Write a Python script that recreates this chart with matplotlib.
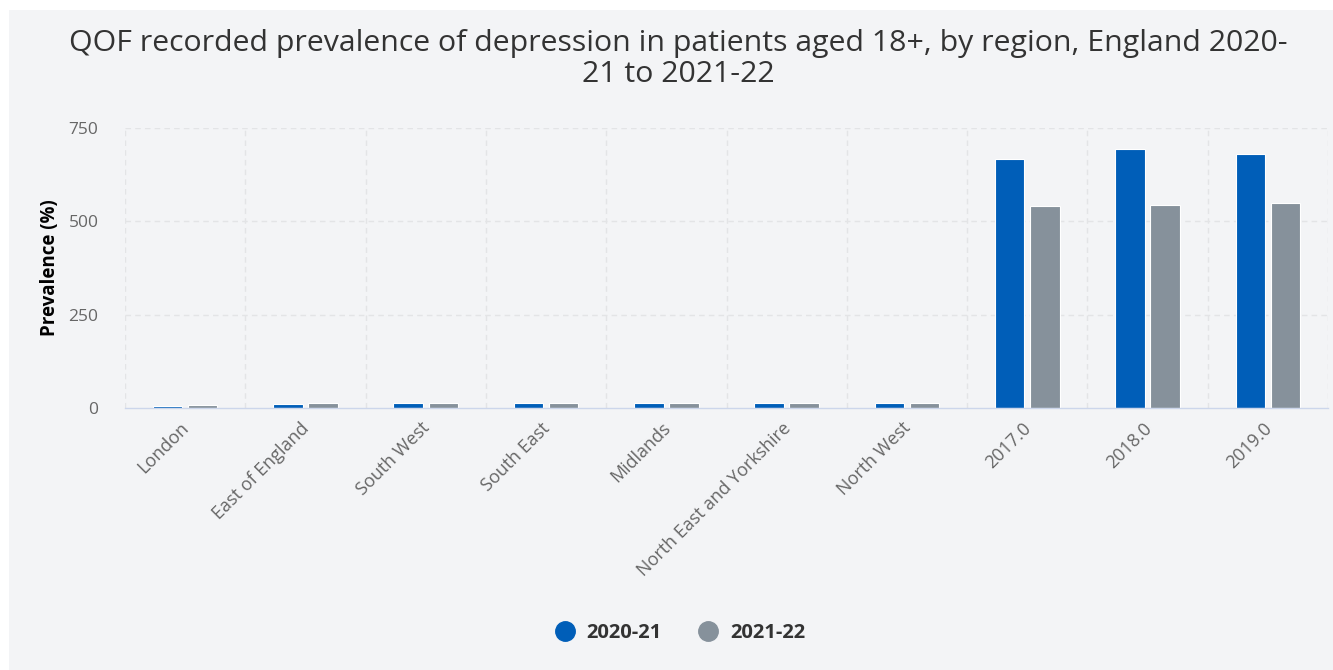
import numpy as np
import matplotlib
matplotlib.use("Agg")
import matplotlib.pyplot as plt
from matplotlib.patches import Rectangle
from matplotlib.lines import Line2D
from matplotlib.transforms import ScaledTranslation

categories = ["London", "East of England", "South West", "South East", "Midlands",
              "North East and Yorkshire", "North West", "2017.0", "2018.0", "2019.0"]
series_names = ["2020-21", "2021-22"]
values_2020_21 = [6.5, 11.9, 13.2, 12.2, 13.4, 13.8, 13.5, 666, 693, 680]
values_2021_22 = [6.8, 12.5, 13.9, 12.7, 14.2, 14.6, 14.3, 540, 545, 550]
y_ticks = [0, 250, 500, 750]

title = "QOF recorded prevalence of depression in patients aged 18+, by region, England 2020-\n21 to 2021-22"
y_label = "Prevalence (%)"

colors = ["#005eb8", "#86919b"]
bg = "#f3f4f6"
W, H = 1333, 670

plt.rcParams["font.family"] = ["Open Sans", "DejaVu Sans"]

fig = plt.figure(figsize=(W / 100, H / 100), dpi=100)
fig.patch.set_facecolor("white")
fig.patches.append(Rectangle((9 / W, 0), 1 - 9 / W, 1 - 10 / H, transform=fig.transFigure,
                             facecolor=bg, edgecolor="none", zorder=-10))

ax = fig.add_axes([125 / W, 1 - 408 / H, (1328 - 125) / W, (408 - 128) / H])
ax.set_facecolor(bg)

x = np.arange(len(categories))
bw = 0.245
off = 0.146
ax.bar(x - off, values_2020_21, bw, color=colors[0], edgecolor="white", linewidth=0.8, zorder=3)
ax.bar(x + off, values_2021_22, bw, color=colors[1], edgecolor="white", linewidth=0.8, zorder=3)

ax.set_xlim(-0.5, len(categories) - 0.5)
ax.set_ylim(0, 750)
ax.set_yticks(y_ticks)
ax.set_yticklabels([str(t) for t in y_ticks])
ax.set_xticks(x)
ax.set_xticklabels(categories, rotation=45, ha="right", va="top", rotation_mode="anchor")

# dashed grid: horizontal at ticks, vertical at category boundaries
for t in y_ticks[1:]:
    ax.axhline(t, color="#e3e4e6", linestyle=(0, (4, 3)), linewidth=1, zorder=1)
for b in np.arange(-0.5, len(categories) - 0.4, 1.0):
    ax.axvline(b, color="#e3e4e6", linestyle=(0, (4, 3)), linewidth=1, zorder=1)

for s in ["top", "right", "left"]:
    ax.spines[s].set_visible(False)
ax.spines["bottom"].set_color("#ccd6eb")
ax.spines["bottom"].set_linewidth(1)
ax.spines["bottom"].set_zorder(4)

ax.tick_params(axis="both", length=0, labelcolor="#666666")
ax.tick_params(axis="x", pad=8, labelsize=13)
ax.tick_params(axis="y", pad=19, labelsize=12.5)
for lbl in ax.get_xticklabels():
    lbl.set_transform(lbl.get_transform() + ScaledTranslation(-0.05, 0, fig.dpi_scale_trans))

ax.set_ylabel(y_label, fontsize=13.5, fontweight="bold", color="#000000", labelpad=6)

fig.text(678 / W, 1 - 59 / H, title, ha="center", va="center", fontsize=21.8, color="#333333",
         linespacing=1.1)

handles = [Line2D([0], [0], marker="o", linestyle="none", markersize=14,
                  markerfacecolor=c, markeredgecolor=c) for c in colors]
leg = fig.legend(handles, series_names, loc="center", bbox_to_anchor=(675 / W, 1 - 633 / H),
                 ncol=2, frameon=False, handletextpad=0.1, columnspacing=1.3,
                 prop={"weight": "bold", "size": 14.5})
for t in leg.get_texts():
    t.set_color("#333333")

fig.savefig("out.png", dpi=100, facecolor=fig.get_facecolor())
